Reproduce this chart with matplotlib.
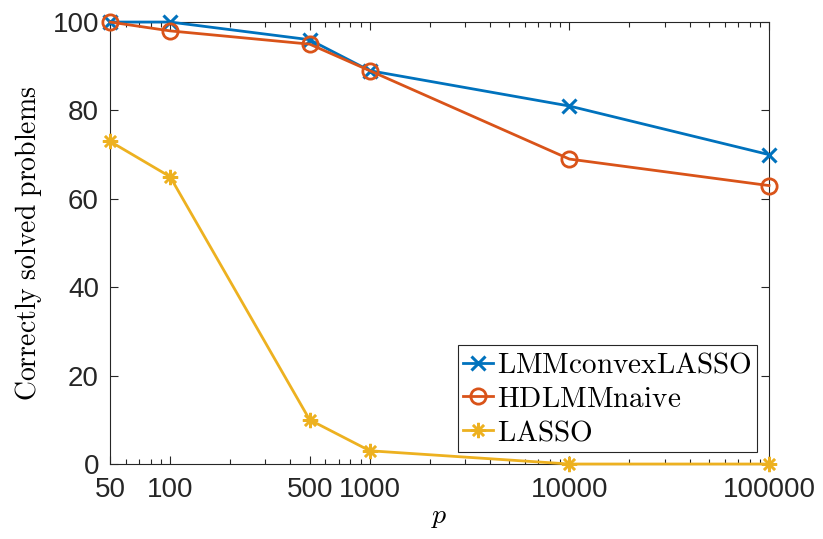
import matplotlib
matplotlib.use("Agg")
import matplotlib.pyplot as plt
from matplotlib.ticker import FixedLocator, FixedFormatter, LogLocator, NullFormatter

# problem sizes and share of correctly solved problems (%)
p_values = [50, 100, 500, 1000, 10000, 100000]
lmm_convex_lasso = [100, 100, 96, 89, 81, 70]
hdlmm_naive = [100, 98, 95, 89, 69, 63]
lasso = [73, 65, 10, 3, 0, 0]

x_ticks = [50, 100, 500, 1000, 10000, 100000]
x_tick_labels = ["50", "100", "500", "1000", "10000", "100000"]
y_ticks = [0, 20, 40, 60, 80, 100]

plt.rcParams["font.family"] = ["Liberation Sans", "DejaVu Sans"]
plt.rcParams["mathtext.fontset"] = "cm"

fig = plt.figure(figsize=(8.23, 5.39), dpi=100)
ax = fig.add_axes([0.1337, 0.1391, 0.8007, 0.8200])

ax.plot(p_values, lmm_convex_lasso, color="#0072BD", lw=2, marker="x",
        ms=10, mew=2.2, label=r"$\mathrm{LMMconvexLASSO}$", clip_on=False, zorder=3)
ax.plot(p_values, hdlmm_naive, color="#D95319", lw=2, marker="o",
        ms=11, mew=2, mfc="none", label=r"$\mathrm{HDLMMnaive}$", clip_on=False, zorder=3)
ax.plot(p_values, lasso, color="#EDB120", lw=2, marker=(8, 2, 0),
        ms=11, mew=1.8, label=r"$\mathrm{LASSO}$", clip_on=False, zorder=3)

ax.set_xscale("log")
ax.set_xlim(50, 100000)
ax.set_ylim(0, 100)
ax.xaxis.set_major_locator(FixedLocator(x_ticks))
ax.xaxis.set_major_formatter(FixedFormatter(x_tick_labels))
ax.xaxis.set_minor_locator(LogLocator(base=10, subs=range(2, 10), numticks=20))
ax.xaxis.set_minor_formatter(NullFormatter())
ax.set_yticks(y_ticks)

ax.tick_params(which="both", direction="in", top=True, right=True,
               colors="#262626", labelsize=20)
ax.tick_params(axis="y", pad=8)
ax.tick_params(axis="x", pad=9)
ax.tick_params(which="major", length=6, width=0.8)
ax.tick_params(which="minor", length=3.5, width=0.8)
for side in ax.spines.values():
    side.set_color("#262626")
    side.set_linewidth(0.8)

ax.set_ylabel(r"$\mathrm{Correctly\ solved\ problems}$", fontsize=20, labelpad=6)
ax.set_xlabel(r"$p$", fontsize=20, labelpad=1)

leg = ax.legend(loc="lower right", fontsize=21, frameon=True, fancybox=False,
                framealpha=1, edgecolor="#262626", handlelength=1.0,
                handletextpad=0.15, borderpad=0.2, labelspacing=0.2,
                borderaxespad=0.4)
leg.get_frame().set_linewidth(0.8)

fig.savefig("out.png", dpi=100)
